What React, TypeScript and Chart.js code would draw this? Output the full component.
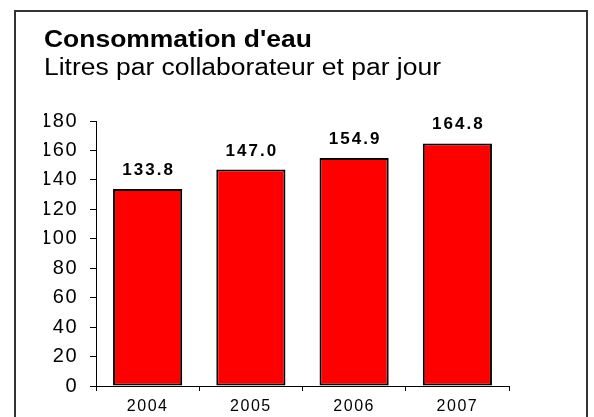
import React, { useEffect, useRef } from "react";
import { Chart, registerables } from "chart.js";

Chart.register(...registerables);

const categories: string[] = ["2004", "2005", "2006", "2007"];
const values: number[] = [133.8, 147.0, 154.9, 164.8];
const yMin = 0;
const yMax = 180;
const yStep = 20;
const titleText = "Consommation d'eau";
const subtitleText = "Litres par collaborateur et par jour";

const FONT = "'Liberation Sans', Arial, Helvetica, sans-serif";
const TITLE_LEFT = 44;
const TITLE_STRETCH = 1.15;

const setSpacing = (ctx: any, v: string) => {
  try {
    ctx.letterSpacing = v;
  } catch (e) {}
};

const framePlugin = {
  id: "frameAndText",
  beforeDraw(chart: any) {
    const ctx = chart.ctx;
    ctx.save();
    ctx.strokeStyle = "#333";
    ctx.lineWidth = 2;
    ctx.strokeRect(15, 11, 572, 420);
    ctx.restore();
    // titles are drawn stretched horizontally like the reference
    ctx.setTransform(TITLE_STRETCH, 0, 0, 1, TITLE_LEFT * (1 - TITLE_STRETCH), 0);
    setSpacing(ctx, "0px");
  },
  beforeDatasetsDraw(chart: any) {
    const ctx = chart.ctx;
    ctx.setTransform(1, 0, 0, 1, 0, 0);
    setSpacing(ctx, "0px");
  },
  afterDatasetsDraw(chart: any) {
    const ctx = chart.ctx;
    const meta = chart.getDatasetMeta(0);
    ctx.save();
    setSpacing(ctx, "2px");
    ctx.font = `bold 17px ${FONT}`;
    ctx.fillStyle = "#000";
    ctx.textAlign = "center";
    ctx.textBaseline = "alphabetic";
    meta.data.forEach((bar: any, i: number) => {
      const v = chart.data.datasets[0].data[i] as number;
      ctx.fillText(v.toFixed(1), bar.x + 1, bar.y - 14);
    });
    ctx.restore();
    // spacing for axis tick labels (drawn after datasets, z: 1)
    setSpacing(ctx, "1.5px");
  },
  afterDraw(chart: any) {
    setSpacing(chart.ctx, "0px");
  },
};

export default function App() {
  const ref = useRef<HTMLCanvasElement | null>(null);
  useEffect(() => {
    if (!ref.current) return;
    const chart = new Chart(ref.current, {
      type: "bar",
      data: {
        labels: categories,
        datasets: [
          {
            data: values,
            backgroundColor: "#FF0000",
            borderColor: "#000000",
            borderWidth: 2,
            borderSkipped: false,
            barPercentage: 0.67,
            categoryPercentage: 1,
          },
        ],
      },
      options: {
        responsive: false,
        animation: false,
        devicePixelRatio: 1,
        layout: { padding: { left: TITLE_LEFT, right: 85, top: 0, bottom: 0 } },
        plugins: {
          legend: { display: false },
          tooltip: { enabled: false },
          title: {
            display: true,
            text: titleText,
            align: "start",
            color: "#000",
            font: { family: FONT, size: 23, weight: "bold", lineHeight: 1.2 },
            padding: { top: 26.7, bottom: 0 },
          },
          subtitle: {
            display: true,
            text: subtitleText,
            align: "start",
            color: "#000",
            font: { family: FONT, size: 23, weight: "normal", lineHeight: 1.2 },
            padding: { top: 0.4, bottom: 38.7 },
          },
        },
        scales: {
          x: {
            grid: {
              display: true,
              drawOnChartArea: false,
              drawTicks: true,
              tickLength: 5,
              color: "#000",
              offset: true,
              z: 1,
            },
            border: { display: true, color: "#000", width: 1, z: 1 },
            ticks: { font: { family: FONT, size: 16 }, color: "#000", padding: 6, z: 1 },
            afterFit: (s: any) => {
              s.height = 31;
            },
          },
          y: {
            min: yMin,
            max: yMax,
            ticks: { stepSize: yStep, font: { family: FONT, size: 20 }, color: "#000", padding: 12, z: 1 },
            grid: { drawOnChartArea: false, tickLength: 6, color: "#000", z: 1 },
            border: { display: true, color: "#000", width: 1, z: 1 },
            afterFit: (s: any) => {
              s.width = 96 - TITLE_LEFT;
            },
          },
        },
      },
      plugins: [framePlugin],
    } as any);
    return () => chart.destroy();
  }, []);
  return (
    <div style={{ position: "absolute", left: 0, top: 0, width: 594, height: 417, background: "#fff" }}>
      <canvas ref={ref} width={594} height={417} style={{ display: "block" }} />
    </div>
  );
}
